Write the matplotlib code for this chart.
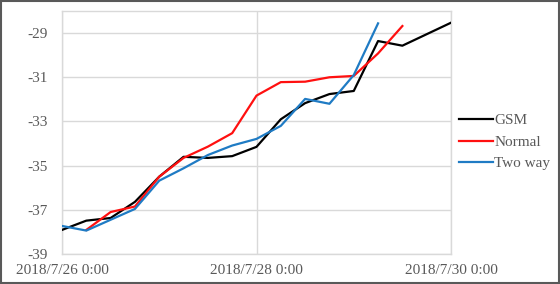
import matplotlib
matplotlib.use("Agg")
import matplotlib.pyplot as plt
import matplotlib.dates as mdates
import pandas as pd
from matplotlib.patches import Rectangle

times = pd.date_range("2018-07-26 00:00", periods=17, freq="6h")

gsm = [-37.91, -37.49, -37.37, -36.64, -35.50, -34.60, -34.65, -34.57, -34.15,
       -32.90, -32.17, -31.76, -31.62, -29.36, -29.57, -29.05, -28.53]
normal = [-37.91, -37.10, -36.85, -35.50, -34.65, -34.14, -33.53, -31.83,
          -31.22, -31.20, -31.00, -30.94, -29.92, -28.68]
normal_times = times[1:15]
two_way = [-37.73, -37.94, -37.45, -36.96, -35.68, -35.12, -34.52, -34.09, -33.79,
           -33.20, -31.98, -32.20, -30.90, -28.56]
two_way_times = times[0:14]

y_ticks = [-39, -37, -35, -33, -31, -29]
x_ticks = pd.to_datetime(["2018-07-26 00:00", "2018-07-28 00:00", "2018-07-30 00:00"])
x_labels = ["2018/7/26 0:00", "2018/7/28 0:00", "2018/7/30 0:00"]

plt.rcParams['font.family'] = ['Liberation Serif', 'DejaVu Serif']

fig = plt.figure(figsize=(5.6, 2.84), dpi=100)
ax = fig.add_axes([62/560, 30/284, (451-62)/560, (254-11)/284])

grid_c = '#d9d9d9'
text_c = '#595959'

ax.plot(times, gsm, color='black', lw=1.6, label='GSM', zorder=3)
ax.plot(normal_times, normal, color='#ff1010', lw=1.6, label='Normal', zorder=3)
ax.plot(two_way_times, two_way, color='#1f7bc4', lw=1.6, label='Two way', zorder=3)

ax.set_xlim(pd.Timestamp("2018-07-26"), pd.Timestamp("2018-07-30"))
ax.set_ylim(-39, -28)
ax.set_yticks(y_ticks)
ax.set_yticklabels([str(v) for v in y_ticks])
ax.set_xticks(x_ticks)
ax.set_xticklabels(x_labels)
ax.tick_params(axis='both', length=0, labelsize=11, colors=text_c)
ax.tick_params(axis='y', pad=10)
ax.tick_params(axis='x', pad=7)
ax.grid(True, color=grid_c, lw=1.0, zorder=0)
for s in ax.spines.values():
    s.set_color(grid_c)
    s.set_linewidth(1.0)

leg = fig.legend(loc='center left', bbox_to_anchor=(459/560, (284-142)/284),
                 frameon=False, fontsize=11, handlelength=2.2, handletextpad=0.1,
                 labelspacing=0.52, borderpad=0, borderaxespad=0)
for t in leg.get_texts():
    t.set_color(text_c)

fig.patches.append(Rectangle((1/560, 1/284), 558/560, 282/284, transform=fig.transFigure,
                             fill=False, edgecolor='#595959', lw=1.5))

fig.savefig("out.png", dpi=100)
